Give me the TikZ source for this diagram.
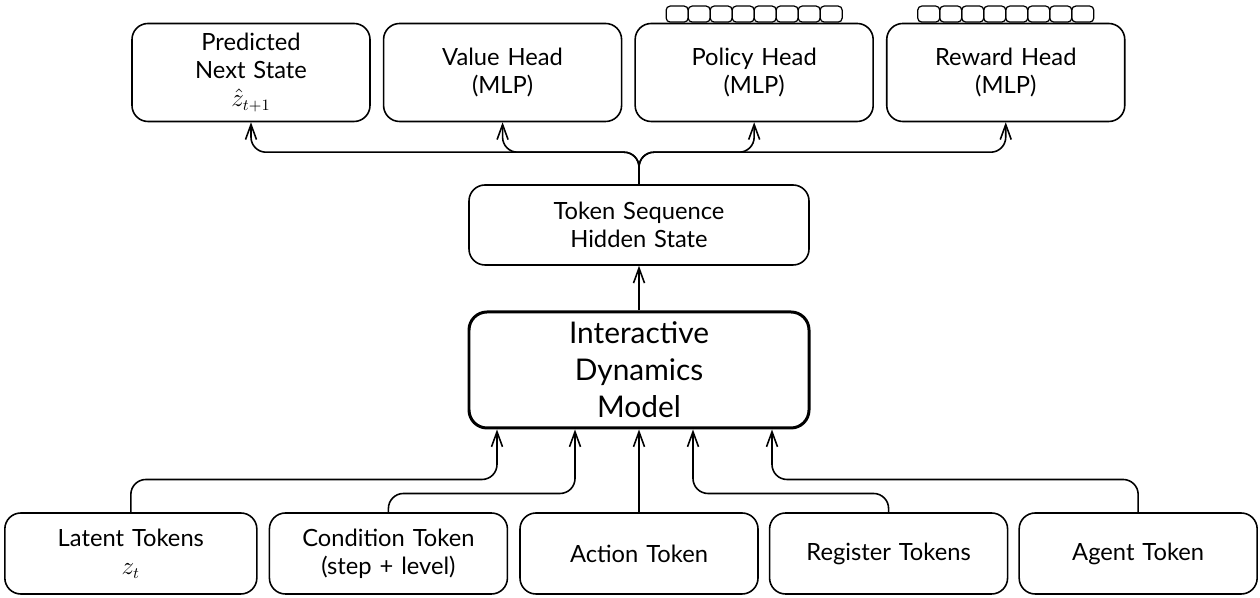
\documentclass[tikz,border=0pt]{standalone}
\usepackage{amsmath}
\usepackage{fontspec}
\setmainfont{Lato}
\usetikzlibrary{shapes.geometric, arrows, arrows.meta, positioning}
\tikzstyle{head} = [rectangle, draw, line width=0.9pt, 
text width=4.5cm, text centered, rounded corners=0.32cm, minimum width=4.76cm, minimum height=1.96cm, font=\fontsize{13.5}{16}\selectfont]
\tikzstyle{token} = [rectangle, draw, line width=0.9pt, 
text width=4.5cm, text centered, rounded corners=0.32cm, minimum width=4.76cm, minimum height=1.62cm, font=\fontsize{13.5}{16}\selectfont]
\tikzstyle{block} = [rectangle, draw, line width=0.9pt, 
text width=6.4cm, text centered, rounded corners=0.32cm, minimum width=6.8cm, minimum height=1.6cm, font=\fontsize{13.5}{16}\selectfont]
\tikzstyle{core} = [rectangle, draw, line width=1.7pt, 
text width=6.4cm, text centered, rounded corners=0.36cm, minimum width=6.8cm, minimum height=2.32cm, font=\fontsize{17}{21}\selectfont]
\tikzstyle{slot} = [rectangle, draw, line width=0.7pt, rounded corners=0.08cm, minimum width=0.44cm, minimum height=0.32cm, inner sep=0pt]
\tikzstyle{arrow} = [line width=0.9pt,->,>={Straight Barb[length=0.3cm,width=0.22cm]}, rounded corners=0.3cm]

\begin{document}
\begin{tikzpicture}[node distance=0.24cm]
	\useasboundingbox (0,0) rectangle (25.2,11.96);
	\node (Pred) [head] at (5.02,10.51) {Predicted\\Next State\\$\hat{z}_{t+1}$};
	\node (Value) [head, right=of Pred] {Value Head\\(MLP)};
	\node (Policy) [head, right=of Value] {Policy Head\\(MLP)};
	\node (Reward) [head, right=of Policy] {Reward Head\\(MLP)};
	\foreach \i in {1,...,8} {
		\node (PolicySlot\i) [slot, anchor=south] at ([xshift={(\i-4.5)*0.44cm}]Policy.north) {};
		\node (RewardSlot\i) [slot, anchor=south] at ([xshift={(\i-4.5)*0.44cm}]Reward.north) {};
	}
	\node (Token) [block] at (12.78,7.46) {Token Sequence\\Hidden State};
	\node (IDM) [core] at (12.78,4.56) {Interactive\\Dynamics\\Model};
	\node (Action) [token] at (12.78,0.89) {Action Token};
	\node (Cond) [token, left=0.22cm of Action] {Condition Token\\(step + level)};
	\node (Latent) [token, minimum width=5.04cm, left=0.22cm of Cond] {Latent Tokens\\$z_t$};
	\node (Register) [token, right=0.2cm of Action] {Register Tokens};
	\node (Agent) [token, right=0.2cm of Register] {Agent Token};

	\coordinate (Split) at ([yshift=0.64cm]Token.north);
	\draw [arrow] (Token.north) -- (Split) -| (Pred.south);
	\draw [arrow] (Token.north) -- (Split) -| (Value.south);
	\draw [arrow] (Token.north) -- (Split) -| (Policy.south);
	\draw [arrow] (Token.north) -- (Split) -| (Reward.south);
	\draw [arrow] (IDM) -- (Token);
	\draw [arrow] (Latent.north) |- ([shift={(-2.84cm,-1cm)}]IDM.south) -- ([xshift=-2.84cm]IDM.south);
	\draw [arrow] (Cond.north) |- ([shift={(-1.28cm,-1.28cm)}]IDM.south) -- ([xshift=-1.28cm]IDM.south);
	\draw [arrow] (Action.north) -- (IDM.south);
	\draw [arrow] (Register.north) |- ([shift={(1.08cm,-1.28cm)}]IDM.south) -- ([xshift=1.08cm]IDM.south);
	\draw [arrow] (Agent.north) |- ([shift={(2.66cm,-1cm)}]IDM.south) -- ([xshift=2.66cm]IDM.south);
\end{tikzpicture}
\end{document}
